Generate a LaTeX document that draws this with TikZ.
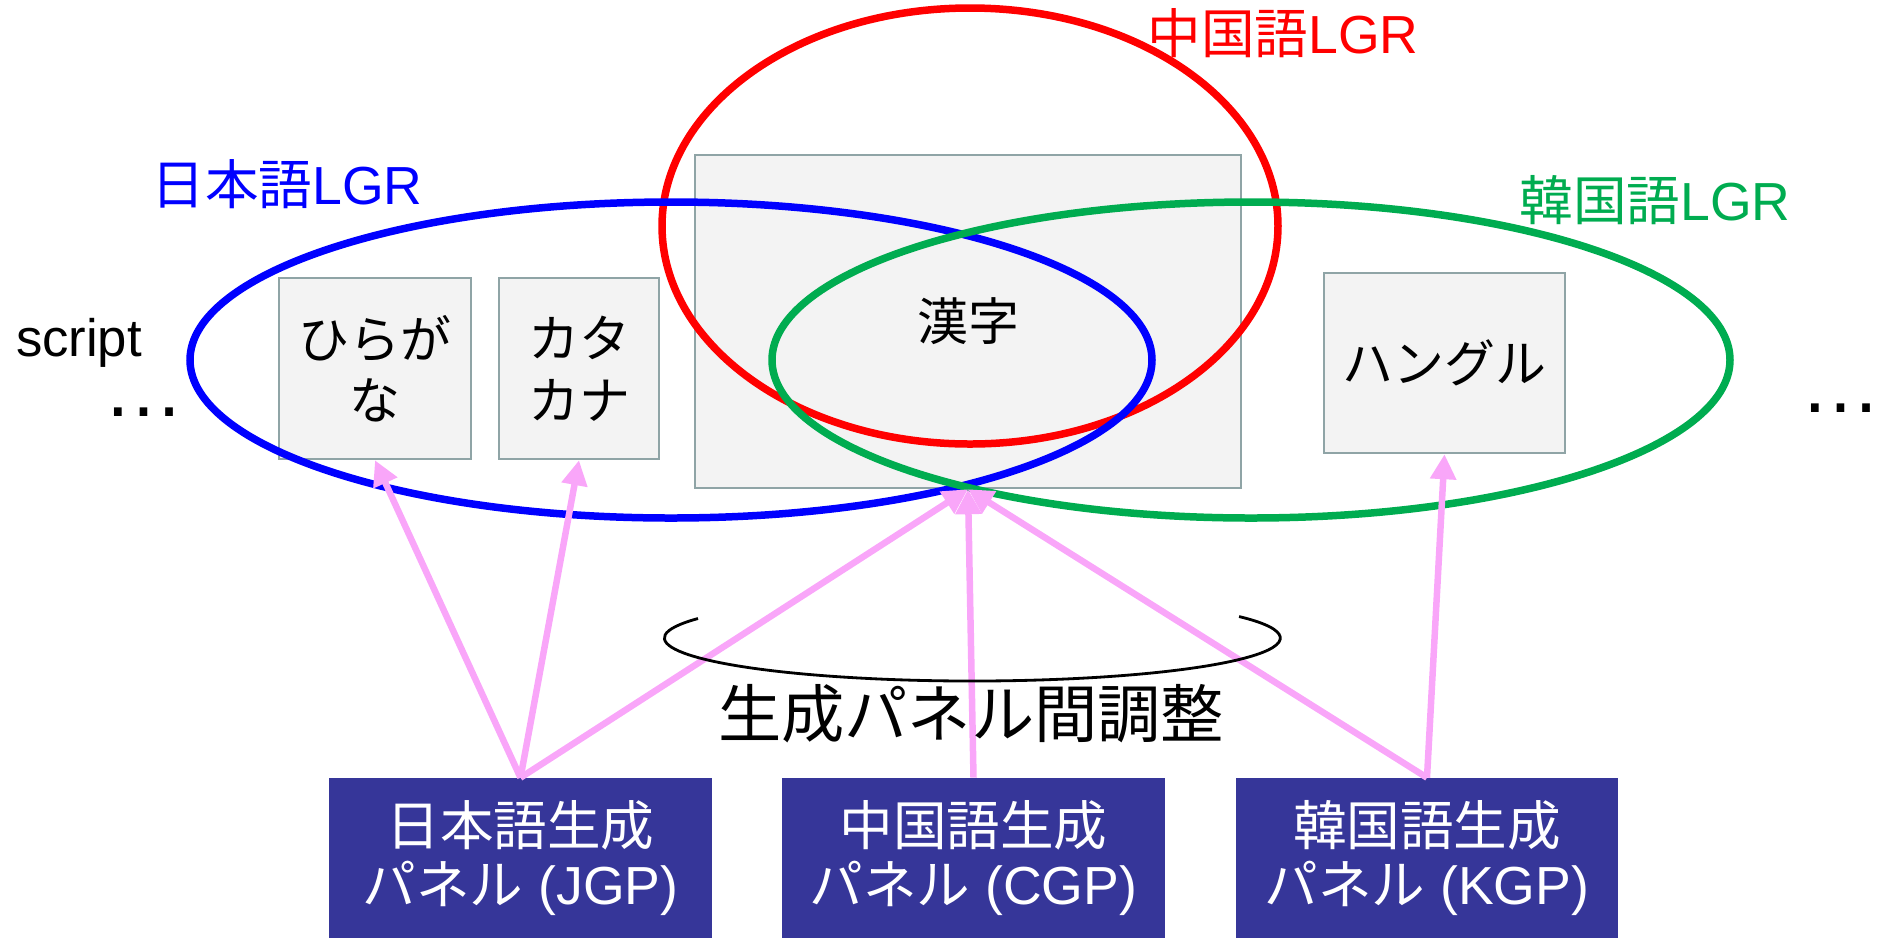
\documentclass[tikz,border=0pt]{standalone}
\usepackage{fontspec}
\setmainfont{Liberation Sans}
\newfontfamily\jpfont{Noto Sans CJK JP}
\usepackage{xcolor}
\usepackage{tikz}
\usetikzlibrary{arrows.meta,positioning}

\definecolor{lgrred}{RGB}{255,0,0}
\definecolor{lgrblue}{RGB}{0,0,255}
\definecolor{lgrgreen}{RGB}{0,172,80}
\definecolor{boxfill}{RGB}{243,243,243}
\definecolor{boxline}{RGB}{143,164,166}
\definecolor{linkpink}{RGB}{249,166,249}
\definecolor{panelblue}{RGB}{54,54,153}

\newcommand{\jp}[1]{{\jpfont #1}}

\begin{document}
\begin{tikzpicture}[
    x=0.02cm, y=-0.02cm,
    scriptbox/.style={rectangle, draw=boxline, line width=1.4pt, fill=boxfill, inner sep=0pt, align=center, font=\fontsize{29}{35}\selectfont\jpfont},
    panel/.style={rectangle, fill=panelblue, text=white, inner sep=0pt, minimum width=7.66cm, minimum height=3.2cm, align=center, font=\fontsize{30.5}{34}\selectfont},
    lgrlabel/.style={inner sep=0pt, font=\fontsize{30.5}{35}\selectfont},
    ring/.style={line width=0.15cm},
    link/.style={draw=linkpink, line width=0.13cm, -{Triangle[length=0.5cm, width=0.5cm]}}
]
    \useasboundingbox (0,0) rectangle (1881,938);

    % --- Scripts ---
    \node[scriptbox, minimum width=3.84cm, minimum height=3.62cm] (hira) at (375,368.5) {ひらが\\な};
    \node[scriptbox, minimum width=3.2cm, minimum height=3.62cm] (kata) at (579,368.5) {カタ\\カナ};
    \node[scriptbox, minimum width=10.92cm, minimum height=6.66cm] (kanji) at (968,321.5) {漢字};
    \node[scriptbox, minimum width=4.82cm, minimum height=3.6cm] (hangul) at (1444.5,363) {ハングル};

    \node[lgrlabel, font=\fontsize{30}{35}\selectfont] (script) at (79,343) {script};
    \node[lgrlabel, font=\fontsize{46}{50}\selectfont] (dots_l) at (144,412) {…};
    \node[lgrlabel, font=\fontsize{46}{50}\selectfont] (dots_r) at (1841,408) {…};

    % --- LGRs ---
    \draw[ring, lgrred] (970,226) ellipse [x radius=308, y radius=218];
    \draw[ring, lgrblue] (671,360) ellipse [x radius=481, y radius=158];
    \draw[ring, lgrgreen] (1251,360) ellipse [x radius=479, y radius=158];

    \node[lgrlabel, text=lgrblue] (lgr_ja) at (287,184) {\jp{日本語}LGR};
    \node[lgrlabel, text=lgrred] (lgr_zh) at (1283,33) {\jp{中国語}LGR};
    \node[lgrlabel, text=lgrgreen] (lgr_ko) at (1655,200) {\jp{韓国語}LGR};

    % --- Generation panels ---
    \node[panel] (jgp) at (520.5,858) {\jp{日本語生成}\\\jp{パネル} (JGP)};
    \node[panel] (cgp) at (973.5,858) {\jp{中国語生成}\\\jp{パネル} (CGP)};
    \node[panel, minimum width=7.64cm] (kgp) at (1427,858) {\jp{韓国語生成}\\\jp{パネル} (KGP)};

    \draw[link] (jgp.north) -- (hira.south);
    \draw[link] (jgp.north) -- (kata.south);
    \draw[link] (jgp.north) -- (kanji.south);
    \draw[link] (cgp.north) -- (kanji.south);
    \draw[link] (kgp.north) -- (kanji.south);
    \draw[link] (kgp.north) -- (hangul.south);

    % Coordination between panels
    \draw[line width=1.6pt] (698,618.5) arc[start angle=153, end angle=390, x radius=6.16cm, y radius=0.86cm];
    \node[lgrlabel, font=\fontsize{36}{40}\selectfont\jpfont] (adjust) at (971,714) {生成パネル間調整};

\end{tikzpicture}
\end{document}
